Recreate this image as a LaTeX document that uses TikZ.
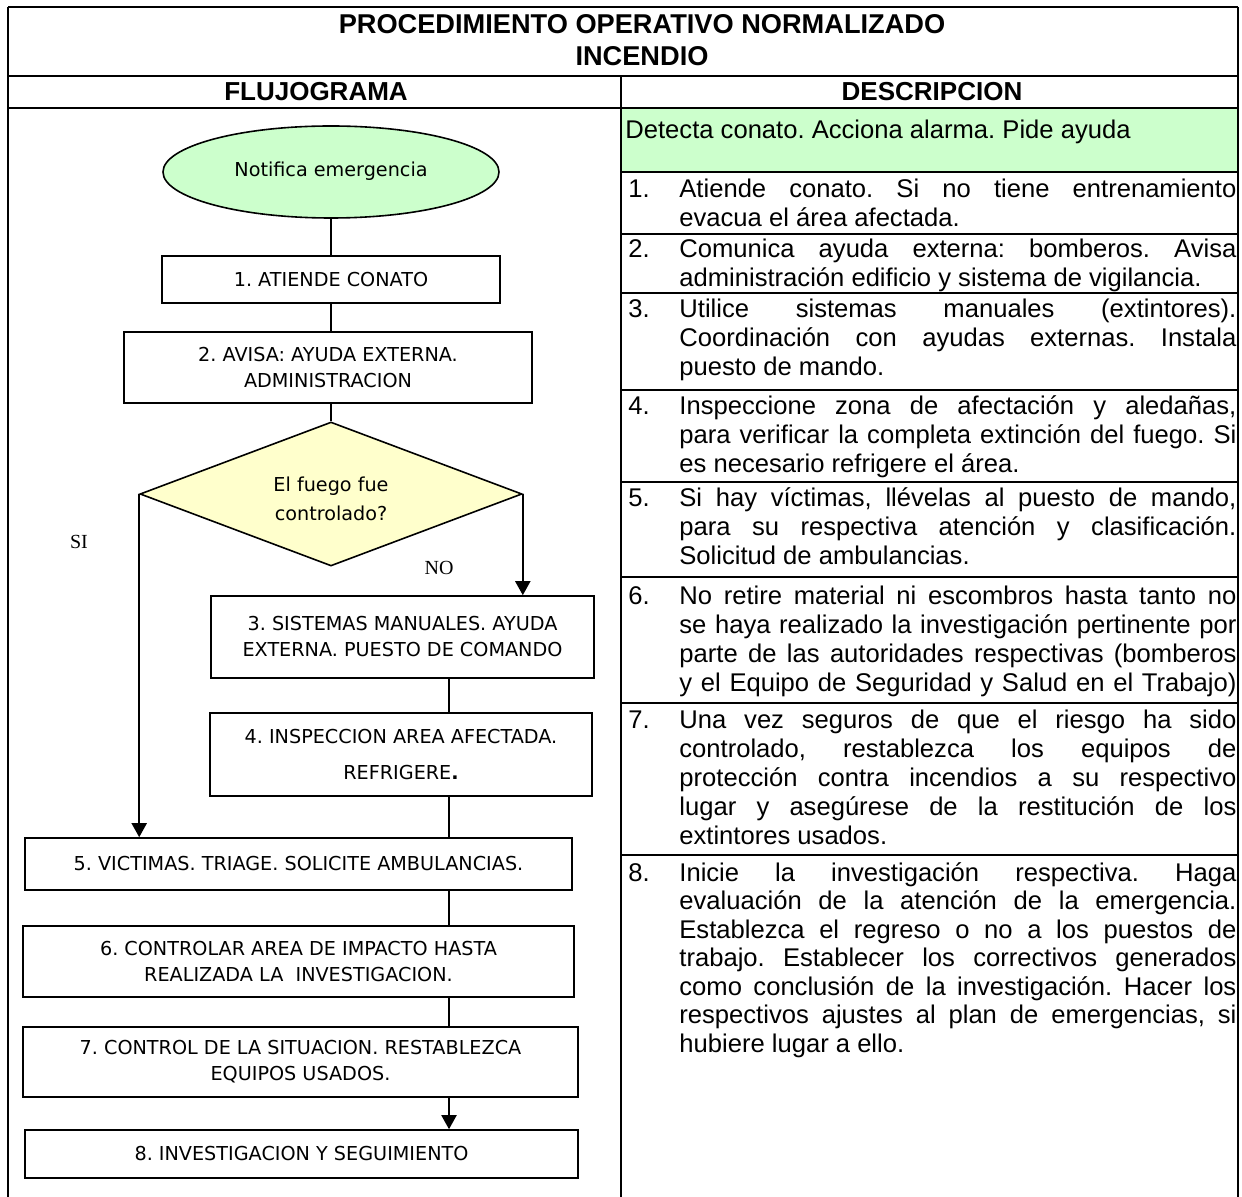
\documentclass[tikz,border=0pt]{standalone}
\usepackage{fontspec}
\setmainfont{Liberation Sans}
\newfontfamily\tah{DejaVu Sans}
\newfontfamily\tms{Liberation Serif}
\usetikzlibrary{shapes.geometric,arrows.meta}
\definecolor{lgreen}{HTML}{CCFFCC}
\definecolor{lyellow}{HTML}{FFFFCC}
\newlength\jw
\setlength\jw{278.5pt}
\newcommand\jl[1]{\makebox[\jw][s]{#1}}
\frenchspacing
\begin{document}
\begin{tikzpicture}[x=0.5pt,y=-0.5pt,
  frame/.style={line width=1.2pt},
  fbox/.style={draw, line width=0.8pt, rectangle, align=center, inner sep=0pt,
    font=\tah\fontsize{9.6}{13}\selectfont},
  conn/.style={line width=1pt},
  arr/.style={line width=1pt, -{Triangle[width=7.5pt,length=7pt]}},
  body/.style={font=\frenchspacing\fontsize{12.8}{14.6}\selectfont, inner sep=0pt, anchor=base west},
  hdr/.style={font=\bfseries\fontsize{13}{16}\selectfont, inner sep=0pt, anchor=base},
  ttl/.style={font=\bfseries\fontsize{13.6}{16}\selectfont, inner sep=0pt, anchor=base},
  lbl/.style={font=\tms\fontsize{10}{12}\selectfont, inner sep=0pt}]
\useasboundingbox (0,0) rectangle (1242,1197);
% table
\fill[lgreen] (621,108) rectangle (1238,172);
\draw[frame] (8,7) -- (1238,7);
\draw[frame] (8,7) -- (8,1197);
\draw[frame] (1238,7) -- (1238,1197);
\draw[frame] (8,76) -- (1238,76);
\draw[frame] (8,108) -- (1238,108);
\draw[frame] (621,76) -- (621,1197);
\foreach \s in {172,234,293,390,482,577,703,855}
  \draw[frame] (621,\s) -- (1238,\s);
% headings
\node[ttl] (t1) at (642,34) {PROCEDIMIENTO OPERATIVO NORMALIZADO};
\node[ttl] (t2) at (642,66) {INCENDIO};
\node[hdr] (h1) at (316,101) {FLUJOGRAMA};
\node[hdr] (h2) at (932,101) {DESCRIPCION};
% flowchart
\node[ellipse, draw, line width=0.8pt, fill=lgreen, minimum width=168pt, minimum height=46pt,
  inner sep=0pt, font=\tah\fontsize{9.6}{13}\selectfont] (start) at (331,172)
  {\raisebox{3pt}{Notifica emergencia}};
\node[fbox, minimum width=169pt, minimum height=23.5pt] (b1) at (331,279.5) {1. ATIENDE CONATO};
\node[fbox, minimum width=204pt, minimum height=35.5pt] (b2) at (328,367.5)
  {2. AVISA: AYUDA EXTERNA.\\ADMINISTRACION};
\node[diamond, draw, line width=0.8pt, fill=lyellow, minimum width=191pt, minimum height=72pt,
  shape aspect=2.6, inner sep=0pt, align=center,
  font=\tah\fontsize{9.6}{14.5}\selectfont] (dec) at (331,494) {\\[-2pt]El fuego fue\\controlado?};
\node[fbox, minimum width=191.5pt, minimum height=41pt] (b3) at (402.5,637)
  {3. SISTEMAS MANUALES. AYUDA\\EXTERNA. PUESTO DE COMANDO};
\node[fbox, minimum width=191pt, minimum height=41.5pt] (b4) at (401,754.5)
  {4. INSPECCION AREA AFECTADA.\\[5pt]REFRIGERE{\bfseries .}};
\node[fbox, minimum width=273.5pt, minimum height=26pt] (b5) at (298.5,864)
  {5. VICTIMAS. TRIAGE. SOLICITE AMBULANCIAS.};
\node[fbox, minimum width=275.5pt, minimum height=35.5pt] (b6) at (298.5,961.5)
  {6. CONTROLAR AREA DE IMPACTO HASTA\\REALIZADA LA\ \ INVESTIGACION.};
\node[fbox, minimum width=277.5pt, minimum height=35pt] (b7) at (300.5,1062)
  {7. CONTROL DE LA SITUACION. RESTABLEZCA\\EQUIPOS USADOS.};
\node[fbox, minimum width=276.5pt, minimum height=24pt] (b8) at (301.5,1154)
  {8. INVESTIGACION Y SEGUIMIENTO};
\node[lbl] (si) at (79,542) {SI};
\node[lbl] (no) at (439,568) {NO};
\coordinate (sp) at (449,0);
\draw[conn] (start.south) -- (b1.north);
\draw[conn] (b1.south) -- (b1.south |- b2.north);
\draw[conn] (dec.north |- b2.south) -- (dec.north);
\draw[arr] (dec.west) -- (dec.west |- b5.north);
\draw[arr] (dec.east) -- (dec.east |- b3.north);
\draw[conn] (b3.south -| sp) -- (b4.north -| sp);
\draw[conn] (b4.south -| sp) -- (b5.north -| sp);
\draw[conn] (b5.south -| sp) -- (b6.north -| sp);
\draw[conn] (b6.south -| sp) -- (b7.north -| sp);
\draw[arr] (b7.south -| sp) -- (b8.north -| sp);
% description
\node[body] (d0) at (625,139) {Detecta conato. Acciona alarma. Pide ayuda};
\node[body] (n1) at (628,198) {1.};
\node[body] (r1a) at (679,198) {\jl{Atiende conato. Si no tiene entrenamiento}};
\node[body] (r1b) at (679,227) {evacua el área afectada.};
\node[body] (n2) at (628,258) {2.};
\node[body] (r2a) at (679,258) {\jl{Comunica ayuda externa: bomberos. Avisa}};
\node[body] (r2b) at (679,287) {administración edificio y sistema de vigilancia.};
\node[body] (n3) at (628,318) {3.};
\node[body] (r3a) at (679,318) {\jl{Utilice sistemas manuales (extintores).}};
\node[body] (r3b) at (679,347) {\jl{Coordinación con ayudas externas. Instala}};
\node[body] (r3c) at (679,376) {puesto de mando.};
\node[body] (n4) at (628,415) {4.};
\node[body] (r4a) at (679,415) {\jl{Inspeccione zona de afectación y aledañas,}};
\node[body] (r4b) at (679,444) {\jl{para verificar la completa extinción del fuego. Si}};
\node[body] (r4c) at (679,473) {es necesario refrigere el área.};
\node[body] (n5) at (628,507) {5.};
\node[body] (r5a) at (679,507) {\jl{Si hay víctimas, llévelas al puesto de mando,}};
\node[body] (r5b) at (679,536) {\jl{para su respectiva atención y clasificación.}};
\node[body] (r5c) at (679,565) {Solicitud de ambulancias.};
\node[body] (n6) at (628,604) {6.};
\node[body] (r6a) at (679,604) {\jl{No retire material ni escombros hasta tanto no}};
\node[body] (r6b) at (679,633) {\jl{se haya realizado la investigación pertinente por}};
\node[body] (r6c) at (679,662) {\jl{parte de las autoridades respectivas (bomberos}};
\node[body] (r6d) at (679,691) {\jl{y el Equipo de Seguridad y Salud en el Trabajo)}};
\node[body] (n7) at (628,728) {7.};
\node[body] (r7a) at (679,728) {\jl{Una vez seguros de que el riesgo ha sido}};
\node[body] (r7b) at (679,757) {\jl{controlado, restablezca los equipos de}};
\node[body] (r7c) at (679,786) {\jl{protección contra incendios a su respectivo}};
\node[body] (r7d) at (679,815) {\jl{lugar y asegúrese de la restitución de los}};
\node[body] (r7e) at (679,844) {extintores usados.};
\node[body] (n8) at (628,881) {8.};
\node[body] (r8a) at (679,881) {\jl{Inicie la investigación respectiva. Haga}};
\node[body] (r8b) at (679,909.5) {\jl{evaluación de la atención de la emergencia.}};
\node[body] (r8c) at (679,938) {\jl{Establezca el regreso o no a los puestos de}};
\node[body] (r8d) at (679,966.5) {\jl{trabajo. Establecer los correctivos generados}};
\node[body] (r8e) at (679,995) {\jl{como conclusión de la investigación. Hacer los}};
\node[body] (r8f) at (679,1023.5) {\jl{respectivos ajustes al plan de emergencias, si}};
\node[body] (r8g) at (679,1052) {hubiere lugar a ello.};
\end{tikzpicture}
\end{document}
